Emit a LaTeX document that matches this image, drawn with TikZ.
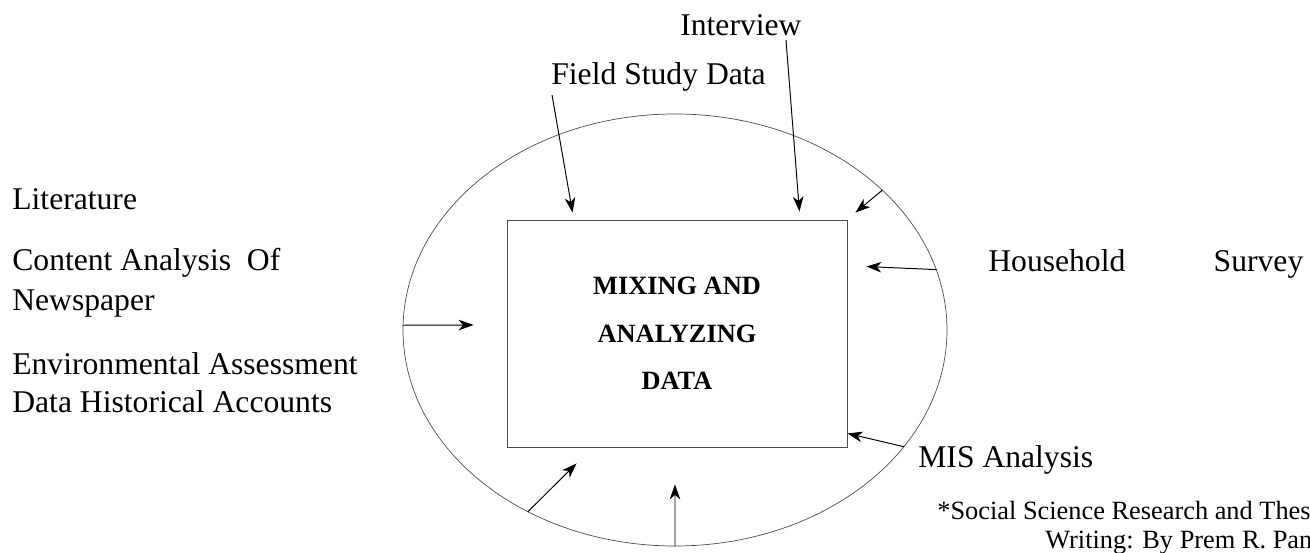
\documentclass[tikz,border=0pt]{standalone}
\usepackage{fontspec}
\setmainfont{Liberation Serif}
\usetikzlibrary{shapes.geometric,arrows.meta,calc}
\begin{document}
\begin{tikzpicture}[
    lbl/.style={anchor=base west,inner sep=0pt,font=\fontsize{18}{21.6}\selectfont},
    feed/.style={-{Stealth[length=8.5pt,width=6pt,inset=2.5pt]},line width=0.55pt},
    src/.style={anchor=base west,inner sep=0pt,font=\fontsize{15}{18}\selectfont},
  ]
        \useasboundingbox (0,0) rectangle (26.2,11.06);
        \node[ellipse,draw=black!70,line width=0.4pt,minimum width=10.88cm,minimum height=8.64cm,inner sep=0pt] (rim) at (13.5,4.46) {};
        \node[draw=black!70,line width=0.5pt,minimum width=6.8cm,minimum height=4.54cm,inner sep=0pt,align=center,font=\bfseries\fontsize{15}{27.2}\selectfont] (mix) at (13.54,4.39) {MIXING AND\\ANALYZING\\DATA};

        \node[lbl] (intv) at (13.6,10.34) {Interview};
        \node[lbl] (field) at (11.02,9.36) {Field Study Data};
        \node[lbl] (lit) at (0.24,6.86) {Literature};
        \node[lbl] (cont) at (0.24,5.64) {Content Analysis~ Of};
        \node[lbl] (news) at (0.24,4.84) {Newspaper};
        \node[lbl] (env) at (0.24,3.56) {Environmental Assessment};
        \node[lbl] (hist) at (0.24,2.8) {Data Historical Accounts};
        \node[lbl] (hh) at (19.76,5.62) {\makebox[6.3cm]{Household\hfill Survey}};
        \node[lbl] (mis) at (18.36,1.7) {MIS Analysis};
        \node[src] (src1) at (18.74,0.66) {*Social Science Research and Thesis};
        \node[src] (src2) at ($(src1.base west)+(2.16,-0.58)$) {Writing: By Prem R. Pant};

        \draw[feed] ($(field.base west)+(0.02,-0.2)$) -- ($(mix.north west)+(1.32,0.14)$);
        \draw[feed] ($(intv.base west)+(2.12,-0.08)$) -- ($(mix.north east)+(-0.96,0.16)$);
        \draw[feed] (rim.34.7) -- ($(mix.north east)+(0.16,0.14)$);
        \draw[feed] (rim.13.6) -- ($(mix.north east)+(0.38,-0.94)$);
        \draw[feed] (rim.179) -- ($(mix.west)+(-0.66,0.17)$);
        \draw[feed] (rim.-27.8) -- ($(mix.south east)+(0,0.28)$);
        \draw[feed] (rim.231) -- ($(mix.south west)+(1.4,-0.32)$);
        \draw[feed] (rim.south) -- ($(mix.south)+(-0.04,-0.74)$);
\end{tikzpicture}
\end{document}
